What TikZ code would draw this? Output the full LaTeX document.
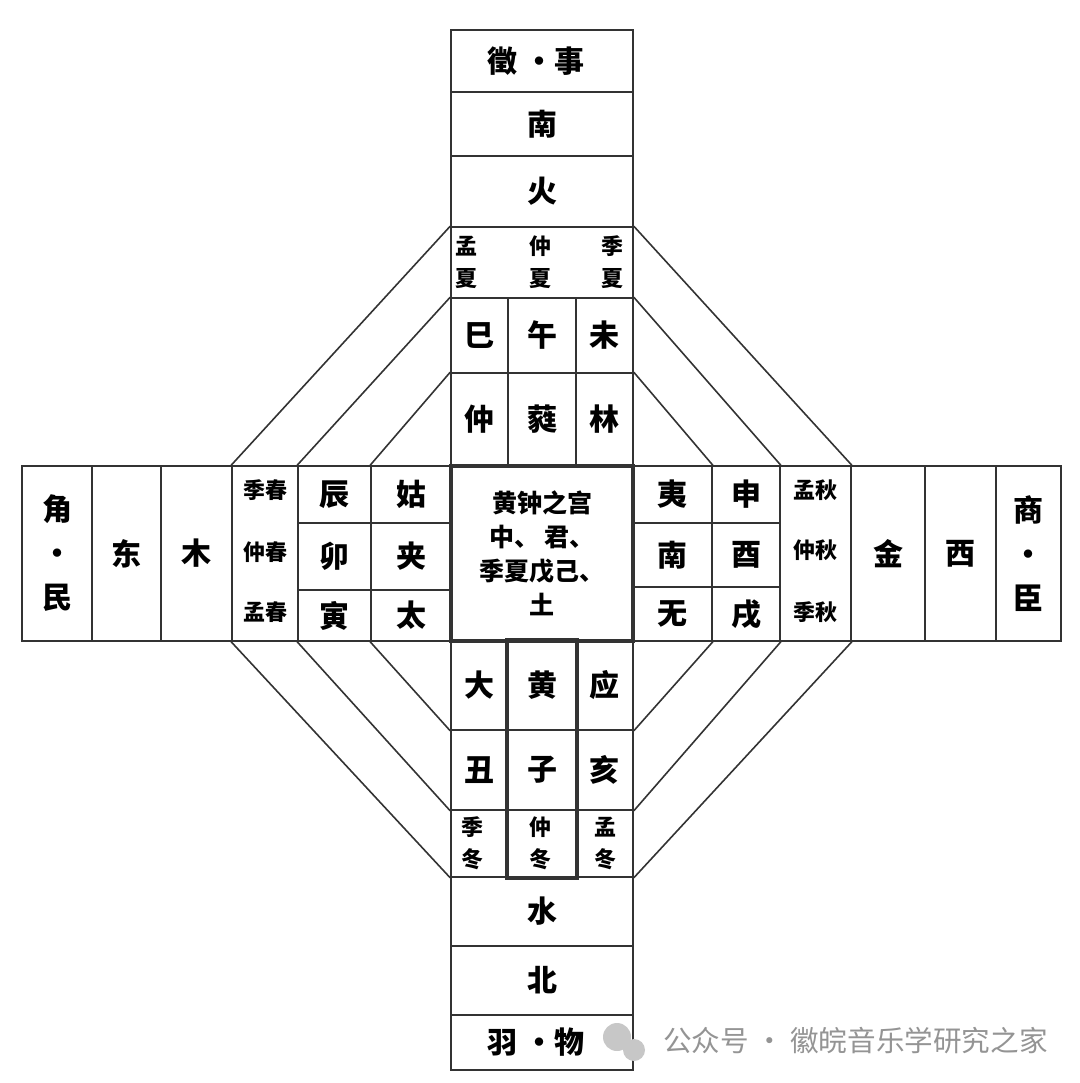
\documentclass[tikz,border=0pt]{standalone}
\usepackage{fontspec}
\setmainfont{Noto Sans CJK SC}
\usetikzlibrary{positioning}

\tikzset{
  cell/.style={draw=black!80, line width=0.8pt, inner sep=0pt, align=center, font=\bfseries\fontsize{15}{22}\selectfont},
  heavy/.style={line width=1.8pt},
  small/.style={inner sep=0pt, align=center, font=\bfseries\fontsize{11}{16}\selectfont},
  diag/.style={draw=black!80, line width=0.8pt},
}
\newcommand{\cellat}[6]{%
  \node[cell, minimum width={(#3-#2)*0.5pt}, minimum height={(#5-#4)*0.5pt}] (#1) at ({(#2+#3)/2},{(#4+#5)/2}) {#6};}

\begin{document}
\begin{tikzpicture}[x=0.5pt, y=-0.5pt]
		\useasboundingbox (0,0) rectangle (1080,1083);
		% top arm
		\foreach \nm/\ya/\yb/\txt in {zhi/30/92/{\hspace{-6pt}徵\hspace{4pt}·\hspace{0pt}事}, nan/92/156/南, huo/156/227/火, mengxia/227/298/{}} {
			\cellat{\nm}{451}{633}{\ya}{\yb}{\txt}
		}
		\foreach \nm/\x/\txt in {xia1/466/孟\\夏, xia2/540/仲\\夏, xia3/612/季\\夏} {
			\node[small] (\nm) at (\x,262) {\txt};
		}
		\foreach \nm/\xa/\xb/\ya/\yb/\txt in {si/451/508/298/373/巳, wu/508/576/298/373/午, wei/576/633/298/373/未,
				zhonglv/451/508/373/466/仲, ruibin/508/576/373/466/蕤, linzhong/576/633/373/466/林} {
			\cellat{\nm}{\xa}{\xb}{\ya}{\yb}{\txt}
		}
		% left arm
		\foreach \nm/\xa/\xb/\txt in {jue/22/92/{角\\·\\民}, dong/92/161/东, mu/161/232/木, jichun/232/298/{}} {
			\cellat{\nm}{\xa}{\xb}{466}{641}{\txt}
		}
		\foreach \nm/\y/\txt in {chun3/490/季春, chun2/552/仲春, chun1/612/孟春} {
			\node[small] (\nm) at (265,\y) {\txt};
		}
		\foreach \nm/\xa/\xb/\ya/\yb/\txt in {chen/298/371/466/523/辰, gu/371/451/466/523/姑,
				mao/298/371/523/590/卯, jia/371/451/523/590/夹, yin/298/371/590/641/寅, tai/371/451/590/641/太} {
			\cellat{\nm}{\xa}{\xb}{\ya}{\yb}{\txt}
		}
		% centre
		\node[cell, heavy, font=\bfseries\fontsize{12.5}{17}\selectfont, minimum width=91pt, minimum height=87.5pt] (gong) at (542,553.5)
			{黄钟之宫\\中、\,君、\\季夏戊己、\\土};
		% right arm
		\foreach \nm/\xa/\xb/\ya/\yb/\txt in {yize/633/712/466/523/夷, shen/712/780/466/523/申,
				nanlv/633/712/523/587/南, you/712/780/523/587/酉, wuyi/633/712/587/641/无, xu/712/780/587/641/戌} {
			\cellat{\nm}{\xa}{\xb}{\ya}{\yb}{\txt}
		}
		\foreach \nm/\xa/\xb/\txt in {mengqiu/780/851/{}, jin/851/925/金, xi/925/996/西, shang/996/1061/{商\\·\\臣}} {
			\cellat{\nm}{\xa}{\xb}{466}{641}{\txt}
		}
		\foreach \nm/\y/\txt in {qiu1/490/孟秋, qiu2/550/仲秋, qiu3/612/季秋} {
			\node[small] (\nm) at (815,\y) {\txt};
		}
		% bottom arm
		\foreach \nm/\xa/\xb/\ya/\yb/\txt in {da/451/508/641/730/大, huang/508/576/641/730/黄, ying/576/633/641/730/应,
				chou/451/508/730/810/丑, zi/508/576/730/810/子, hai/576/633/730/810/亥,
				jidong/451/508/810/877/{}, zhongdong/508/576/810/877/{}, mengdong/576/633/810/877/{}} {
			\cellat{\nm}{\xa}{\xb}{\ya}{\yb}{\txt}
		}
		\foreach \nm/\x/\txt in {dong3/472/季\\冬, dong2/540/仲\\冬, dong1/605/孟\\冬} {
			\node[small] (\nm) at (\x,843) {\txt};
		}
		\draw[draw=black!80, heavy] (huang.north west) rectangle (zhongdong.south east);
		\foreach \nm/\ya/\yb/\txt in {shui/877/946/水, bei/946/1015/北, yu/1015/1070/{\hspace{-6pt}羽\hspace{4pt}·\hspace{0pt}物}} {
			\cellat{\nm}{451}{633}{\ya}{\yb}{\txt}
		}
		% diagonals
		\draw[diag] (mengxia.north west) -- (jichun.north west);
		\draw[diag] (si.north west) -- (chen.north west);
		\draw[diag] (zhonglv.north west) -- (gu.north west);
		\draw[diag] (mengxia.north east) -- (mengqiu.north east);
		\draw[diag] (wei.north east) -- (shen.north east);
		\draw[diag] (linzhong.north east) -- (yize.north east);
		\draw[diag] (jichun.south west) -- (jidong.south west);
		\draw[diag] (yin.south west) -- (chou.south west);
		\draw[diag] (tai.south west) -- (da.south west);
		\draw[diag] (mengqiu.south east) -- (mengdong.south east);
		\draw[diag] (xu.south east) -- (hai.south east);
		\draw[diag] (wuyi.south east) -- (ying.south east);
		% watermark
		\fill[black!22] (617,1037) circle[radius=7pt];
		\fill[black!22] (634,1050) circle[radius=5.5pt];
		\node[text=black!42, font=\fontsize{14.3}{15}\selectfont, anchor=west] (wm) at (656,1041) {公众号 · 徽皖音乐学研究之家};
	\end{tikzpicture}
\end{document}
